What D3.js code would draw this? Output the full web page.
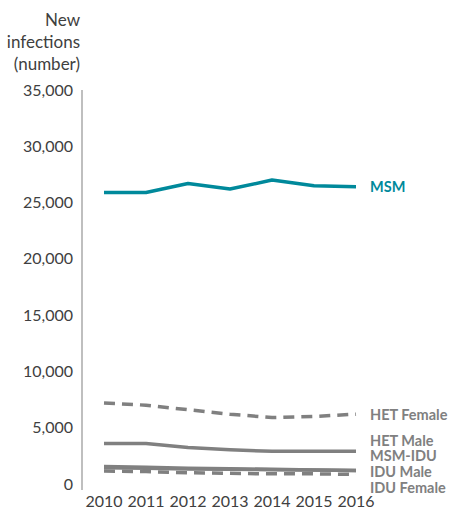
<!DOCTYPE html>
<html>
<head>
<meta charset="utf-8">
<script src="https://cdn.jsdelivr.net/npm/d3@7"></script>
<style>
  body { margin: 0; background: #fff; }
  text { font-family: Lato, "Open Sans", sans-serif; }
</style>
</head>
<body>
<script>
// Data
var years = [2010, 2011, 2012, 2013, 2014, 2015, 2016];
var msm = [25900, 25900, 26700, 26200, 27000, 26500, 26400];
var hetFemale = [7200, 7000, 6600, 6200, 5900, 6000, 6200];
var hetMale = [3600, 3600, 3250, 3050, 2900, 2900, 2900];
var msmIdu = [1550, 1480, 1400, 1350, 1300, 1250, 1200];
var iduMale = [1450, 1400, 1330, 1300, 1270, 1250, 1200];
var iduFemale = [1150, 1100, 1000, 950, 900, 900, 850];
var yTicks = [0, 5000, 10000, 15000, 20000, 25000, 30000, 35000];

var series = [
  { name: "HET Female", values: hetFemale, color: "#808080", dash: "11,7", labelY: 415 },
  { name: "HET Male", values: hetMale, color: "#808080", dash: null, labelY: 440.5 },
  { name: "MSM-IDU", values: msmIdu, color: "#808080", dash: null, labelY: 456.3 },
  { name: "IDU Male", values: iduMale, color: "#808080", dash: null, labelY: 472.1 },
  { name: "IDU Female", values: iduFemale, color: "#808080", dash: "11,7", labelY: 487.9 },
  { name: "MSM", values: msm, color: "#00899b", dash: null, labelY: 187 }
];

var svgWidth = 456;
var svgHeight = 511;

var svg = d3.select("body")
  .append("svg")
  .attr("width", svgWidth)
  .attr("height", svgHeight);

var xScale = d3.scalePoint()
  .domain(years)
  .range([104, 356]);

var yScale = d3.scaleLinear()
  .domain([0, 35000])
  .range([484, 90]);

// y axis line
svg.append("line")
  .attr("x1", 82).attr("x2", 82)
  .attr("y1", 90).attr("y2", 490)
  .attr("stroke", "#bfbfbf")
  .attr("stroke-width", 2);

// y tick labels
svg.selectAll(".ytick")
  .data(yTicks)
  .enter()
  .append("text")
  .attr("x", 73)
  .attr("y", d => yScale(d))
  .attr("dy", "0.35em")
  .attr("text-anchor", "end")
  .attr("font-size", 16)
  .attr("fill", "#404040")
  .text(d => d3.format(",")(d));

// x tick labels
svg.selectAll(".xtick")
  .data(years)
  .enter()
  .append("text")
  .attr("x", d => xScale(d))
  .attr("y", 501)
  .attr("dy", "0.35em")
  .attr("text-anchor", "middle")
  .attr("font-size", 16)
  .attr("fill", "#404040")
  .text(d => d);

// axis title
var title = svg.append("text")
  .attr("text-anchor", "end")
  .attr("font-size", 17)
  .attr("fill", "#404040");
["New", "infections", "(number)"].forEach(function(t, i) {
  title.append("tspan")
    .attr("x", 80)
    .attr("y", 20 + i * 22)
    .attr("dy", "0.35em")
    .text(t);
});

var drawLine = d3.line()
  .x((d, i) => xScale(years[i]))
  .y(d => yScale(d));

series.forEach(function(s) {
  svg.append("path")
    .attr("d", drawLine(s.values))
    .attr("fill", "none")
    .attr("stroke", s.color)
    .attr("stroke-width", 3.5)
    .attr("stroke-dasharray", s.dash)
    .attr("stroke-linejoin", "round");

  svg.append("text")
    .attr("x", 370)
    .attr("y", s.labelY)
    .attr("dy", "0.35em")
    .attr("font-size", 14.5)
    .attr("font-weight", "bold")
    .attr("fill", s.color)
    .text(s.name);
});
</script>
</body>
</html>
